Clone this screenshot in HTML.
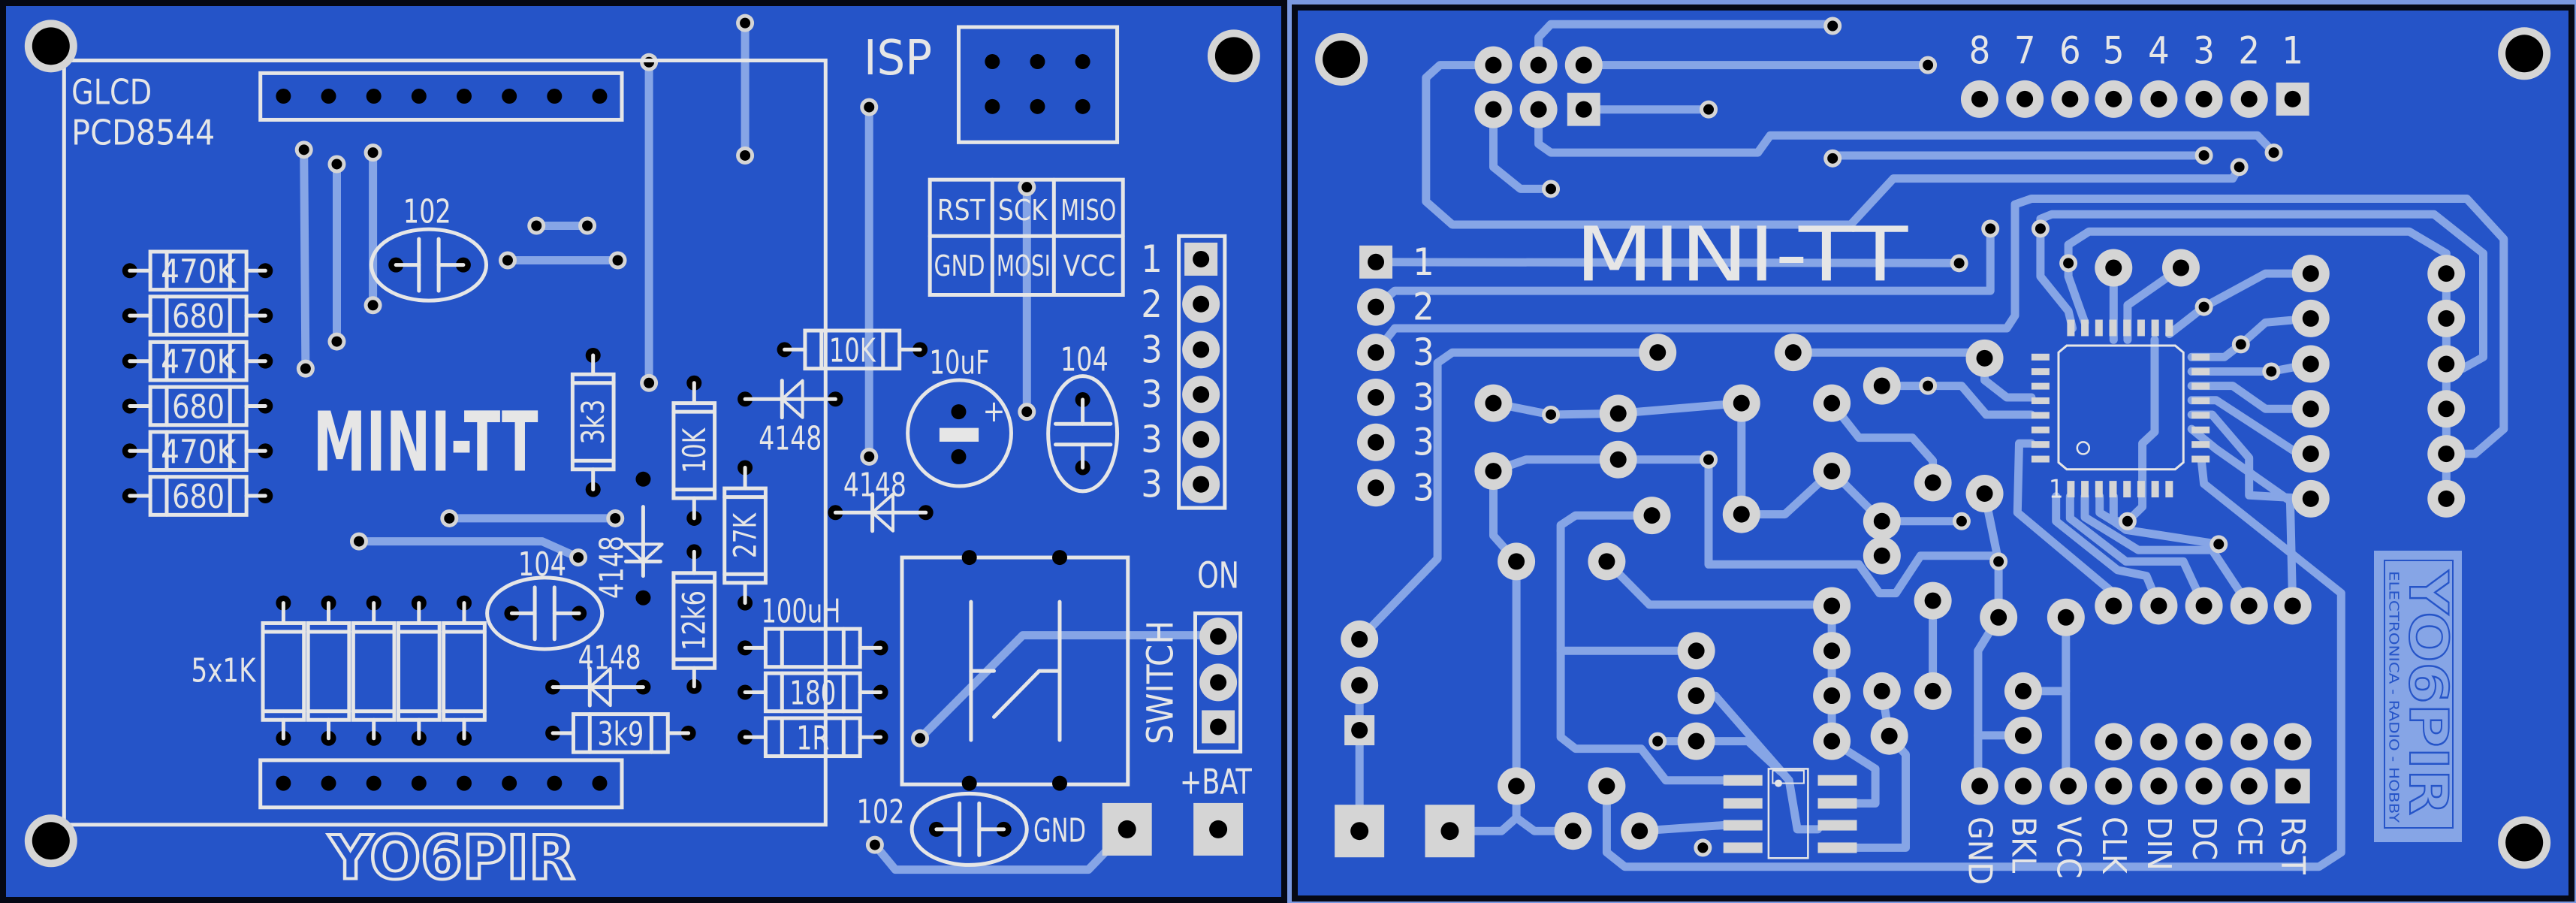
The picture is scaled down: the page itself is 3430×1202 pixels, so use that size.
<!DOCTYPE html>
<html><head><meta charset="utf-8"><style>
html,body{margin:0;padding:0;background:#7a98e0;width:3430px;height:1202px;overflow:hidden}
svg{display:block}
text{font-family:"Liberation Sans Narrow","DejaVu Sans Condensed","Liberation Sans",sans-serif}
</style></head><body>
<svg id="s" xmlns="http://www.w3.org/2000/svg" width="3430" height="1202" viewBox="0 0 3430 1202"></svg>
<script>
const kx=1.0938,ky=0.7666;let o='';
const W='#e6e6e6',TR='#86a5e6',PD='#d5d5d5',BK='#000',BL='#2554c8';
const X=(b,x)=>(b?1715:0)+x*kx, Y=y=>y*ky;
function pl(b,pts,col,w,fill){o+=`<polyline points="${pts.map(p=>X(b,p[0]).toFixed(1)+','+Y(p[1]).toFixed(1)).join(' ')}" fill="${fill||'none'}" stroke="${col}" stroke-width="${w}" stroke-linejoin="round" stroke-linecap="round"/>`}
function tr(b,...p){pl(b,p,TR,11)}
function ci(b,x,y,r,f,st,sw){o+=`<circle cx="${X(b,x)}" cy="${Y(y)}" r="${r}" fill="${f}" ${st?`stroke="${st}" stroke-width="${sw}"`:''}/>`}
function dot(x,y){ci(0,x,y,10,BK)}
function via(b,x,y){ci(b,x,y,12,PD);ci(b,x,y,7,BK)}
function pad(b,x,y){ci(b,x,y,25,PD);ci(b,x,y,11,BK)}
function spad(b,x,y,s){s=s||46;o+=`<rect x="${X(b,x)-s/2}" y="${Y(y)-s/2}" width="${s}" height="${s}" fill="${PD}"/>`;ci(b,x,y,11,BK)}
function bpad(b,x,y){o+=`<rect x="${X(b,x)-33}" y="${Y(y)-35}" width="66" height="70" fill="${PD}"/>`;ci(b,x,y,12,BK)}
function mh(b,x,y){ci(b,x,y,35,PD);ci(b,x,y,25,BK)}
function rc(b,x1,y1,x2,y2,w,col,f){o+=`<rect x="${X(b,x1)}" y="${Y(y1)}" width="${(x2-x1)*kx}" height="${(y2-y1)*ky}" fill="${f||'none'}" stroke="${col||W}" stroke-width="${w||5}"/>`}
function el(b,x,y,rx,ry){o+=`<ellipse cx="${X(b,x)}" cy="${Y(y)}" rx="${rx*kx}" ry="${ry*ky}" fill="none" stroke="${W}" stroke-width="5"/>`}
function tx(b,x,y,s,fs,o2){o2=o2||{};const xx=X(b,x),yy=Y(y);
 o+=`<text x="${xx}" y="${yy}" font-size="${fs}" fill="${o2.fill||W}" ${o2.st?`stroke="${o2.st}" stroke-width="${o2.sw||2}"`:''} font-weight="${o2.wt||'normal'}" text-anchor="${o2.a||'middle'}" dominant-baseline="central" ${o2.len?`textLength="${o2.len}" lengthAdjust="spacingAndGlyphs"`:''} ${o2.rot?`transform="rotate(${o2.rot} ${xx} ${yy})"`:''}>${s}</text>`}
function sl(b,...p){pl(b,p,W,5)}
// boards
o+=`<rect x="4" y="4" width="1706" height="1194" fill="${BL}" stroke="#050814" stroke-width="8"/>`;
o+=`<rect x="1724" y="10" width="1700" height="1186" fill="${BL}" stroke="#050814" stroke-width="8"/>`;

/* ================= LEFT BOARD ================= */
// back traces
tr(0,[907,40],[907,270]);tr(0,[790,108],[790,665]);tr(0,[1058,186],[1058,793]);tr(0,[1250,325],[1250,715]);
tr(0,[370,260],[372,640]);tr(0,[410,285],[410,593]);tr(0,[454,265],[454,530]);tr(0,[653,392],[715,392]);
tr(0,[618,452],[752,452]);tr(0,[547,900],[749,900]);tr(0,[437,940],[660,940],[704,968]);
tr(0,[1120,1282],[1245,1103],[1480,1103]);tr(0,[1065,1467],[1090,1510],[1325,1510],[1372,1440]);
[[907,40],[907,270],[790,108],[790,665],[1058,186],[1058,793],[1250,325],[1250,715],[370,260],[372,640],[410,285],[410,593],[454,265],[454,530],[653,392],[715,392],[618,452],[752,452],[547,900],[749,900],[437,940],[704,968],[1120,1282],[1065,1467]].forEach(p=>via(0,p[0],p[1]));
// LCD outline
rc(0,78,105,1005,1432);
rc(0,317,127,757,208);rc(0,317,1320,757,1402);
[345,400,455,510,565,620,675,730].forEach(x=>{dot(x,167);dot(x,1360)});
tx(0,87,160,'GLCD',46,{a:'start',len:107});tx(0,87,230,'PCD8544',46,{a:'start',len:191});
tx(0,1093,102,'ISP',64,{len:91});
rc(0,1167,47,1360,247);[1208,1263,1318].forEach(x=>{dot(x,107);dot(x,185)});
rc(0,1132,312,1367,512);sl(0,[1132,410],[1367,410]);sl(0,[1208,312],[1208,512]);sl(0,[1283,312],[1283,512]);
tx(0,1170,365,'RST',38,{len:64});tx(0,1245,365,'SCK',38,{len:66});tx(0,1325,365,'MISO',38,{len:74});
tx(0,1168,462,'GND',38,{len:68});tx(0,1246,462,'MOSI',38,{len:72});tx(0,1326,462,'VCC',38,{len:70});
rc(0,1435,410,1491,882);spad(0,1462,450,44);[528,607,685,763,841].forEach(y=>pad(0,1462,y));
['1','2','3','3','3','3'].forEach((s,i)=>tx(0,1402,[450,528,607,685,763,841][i],s,50));
tx(0,518,768,'MINI-TT',110,{wt:'bold',len:300});
// left resistor stack
function hres(b,x1,x2,y,b1,b2,lab,len){dot(x1,y);dot(x2,y);sl(b,[x1,y],[b1,y]);sl(b,[b2,y],[x2,y]);rc(b,b1,y-33,b2,y+33);sl(b,[b1+20,y-33],[b1+20,y+33]);sl(b,[b2-20,y-33],[b2-20,y+33]);if(lab)tx(b,(b1+b2)/2,y+2,lab,44,{len:len})}
function vres(b,x,y1,y2,b1,b2,lab,len){dot(x,y1);dot(x,y2);sl(b,[x,y1],[x,b1]);sl(b,[x,b2],[x,y2]);rc(b,x-25,b1,x+25,b2);sl(b,[x-25,b1+15],[x+25,b1+15]);sl(b,[x-25,b2-15],[x+25,b2-15]);if(lab)tx(b,x,(b1+b2)/2,lab,42,{rot:-90,len:len})}
[['470K',470],['680',548],['470K',627],['680',705],['470K',783],['680',861]].forEach(a=>hres(0,158,323,a[1],183,300,a[0],a[0].length>3?100:70));
function cap(x,y,rx,ry,lab,lx,ly){el(0,x,y,rx,ry);dot(x-40,y);dot(x+42,y);sl(0,[x-40,y],[x-12,y]);sl(0,[x+12,y],[x+42,y]);sl(0,[x-12,y-45],[x-12,y+45]);sl(0,[x+12,y-45],[x+12,y+45]);tx(0,lx,ly,lab,44,{len:64})}
cap(522,460,70,62,'102',520,368);cap(663,1065,70,62,'104',660,980);cap(1180,1440,70,62,'102',1072,1410);
vres(0,722,617,850,650,815,'3k3',60);vres(0,845,665,900,700,865,'10K',60);vres(0,845,958,1192,995,1160,'12k6',80);vres(0,907,812,1047,848,1012,'27K',60);
hres(0,955,1120,607,980,1095,'10K',62);
function hd(x1,x2,y,lab,lx,ly){dot(x1,y);dot(x2,y);sl(0,[x1,y],[x2,y]);const c=(x1+x2)/2;pl(0,[[c-10,y],[c+15,y-32],[c+15,y+32],[c-10,y]],W,4);sl(0,[c-10,y-32],[c-10,y+32]);tx(0,lx,ly,lab,44,{len:84})}
hd(907,1017,693,'4148',962,762);hd(1017,1127,890,'4148',1065,843);hd(673,783,1193,'4148',742,1143);
// vertical diode
dot(783,832);dot(783,1038);sl(0,[783,880],[783,1000]);pl(0,[[783,975],[760,945],[806,945],[783,975]],W,4);sl(0,[762,975],[804,975]);tx(0,745,985,'4148',44,{rot:-90,len:84});
// 10uF
el(0,1168,752,63,92);dot(1167,715);dot(1167,793);rc(0,1145,745,1190,765,3,W,W);tx(0,1210,715,'+',40);tx(0,1168,630,'10uF',44,{len:80});
// 104 right
el(0,1318,753,42,100);dot(1318,694);dot(1318,812);sl(0,[1318,694],[1318,736]);sl(0,[1318,772],[1318,812]);sl(0,[1285,736],[1352,736]);sl(0,[1285,772],[1352,772]);tx(0,1320,625,'104',44,{len:64});
// 5x1K
[345,400,455,510,565].forEach(x=>vres(0,x,1047,1282,1082,1250));tx(0,272,1165,'5x1K',44,{len:86});
hres(0,907,1072,1125,932,1047,'',0);hres(0,907,1072,1202,932,1047,'180',62);hres(0,907,1072,1280,932,1047,'1R',44);
tx(0,975,1062,'100uH',44,{len:106});
hres(0,673,838,1273,698,813,'3k9',62);
// switch
rc(0,1098,968,1373,1362);[[1180,968],[1290,968],[1180,1360],[1290,1360]].forEach(p=>dot(p[0],p[1]));
sl(0,[1182,1045],[1182,1285]);sl(0,[1290,1045],[1290,1285]);sl(0,[1182,1165],[1210,1165]);sl(0,[1210,1245],[1265,1165],[1290,1165]);
rc(0,1455,1065,1510,1305);pad(0,1483,1105);pad(0,1483,1185);spad(0,1483,1262,44);
tx(0,1483,1000,'ON',48,{len:56});tx(0,1413,1185,'SWITCH',48,{rot:-90,len:165});
tx(0,1290,1443,'GND',44,{len:70});tx(0,1480,1357,'+BAT',46,{len:96});
bpad(0,1372,1440);bpad(0,1483,1440);
tx(0,550,1490,'YO6PIR',80,{wt:'bold',fill:'none',st:W,sw:4,len:328});
mh(0,62,80);mh(0,1502,97);mh(0,62,1460);

/* ================= RIGHT BOARD ================= */
tr(1,[305,113],[305,65],[320,42],[663,42]);tr(1,[360,113],[779,113]);tr(1,[360,190],[512,190]);
tr(1,[250,113],[185,113],[168,135],[168,350],[200,390],[685,390],[737,310],[1150,310],[1158,290]);
tr(1,[250,190],[250,290],[283,328],[320,328]);
tr(1,[305,190],[305,250],[320,265],[572,265],[587,235],[1180,235],[1200,265]);
tr(1,[663,270],[1115,270]);tr(1,[107,455],[817,457]);
tr(1,[107,533],[130,505],[855,505],[855,397]);
tr(1,[107,612],[130,570],[875,570],[885,548],[885,355],[905,345],[1435,345],[1480,415],[1480,745],[1445,788],[1410,788]);
tr(1,[916,397],[916,380],[930,372],[1395,372],[1455,440],[1455,620],[1430,640]);
tr(1,[950,457],[950,425],[975,402],[1365,402],[1410,440],[1410,475]);
tr(1,[1410,475],[1410,866]);
tr(1,[450,612],[200,612],[182,630],[182,970],[87,1110]);
tr(1,[615,612],[848,612],[848,622]);
tr(1,[250,700],[320,720],[402,718],[552,700]);tr(1,[250,818],[290,798],[512,798]);
tr(1,[552,700],[552,893],[605,893],[662,818],[723,905]);
tr(1,[662,700],[695,760],[760,760],[785,800],[785,838]);
tr(1,[723,670],[820,670],[850,720],[905,720]);tr(1,[848,622],[848,660],[875,690],[905,690]);
tr(1,[250,818],[250,930],[278,975],[278,1365],[278,1420],[260,1443],[197,1443]);tr(1,[278,1420],[300,1443],[347,1443]);
tr(1,[87,1190],[87,1443]);
tr(1,[512,798],[512,980],[695,980],[720,1030],[740,1030],[770,965],[865,965]);
tr(1,[848,857],[865,975],[865,1072],[840,1130],[840,1365]);tr(1,[723,905],[820,905]);
tr(1,[388,975],[440,1050],[662,1050]);
tr(1,[443,895],[350,895],[332,912],[332,1280],[350,1300],[430,1300],[460,1355],[530,1355]);tr(1,[332,1130],[497,1130]);
tr(1,[662,1050],[662,1287]);tr(1,[785,1043],[785,1200]);
tr(1,[497,1208],[520,1208],[610,1355],[620,1440],[645,1440]);
tr(1,[450,1287],[560,1287],[600,1340]);
tr(1,[723,1200],[732,1278],[752,1310],[752,1472],[693,1472]);
tr(1,[662,1287],[715,1335],[715,1395],[693,1395]);
tr(1,[388,1365],[388,1480],[410,1505],[1255,1505],[1282,1480],[1282,1030],[1115,840],[1112,800]);
tr(1,[428,1443],[530,1433]);
tr(1,[947,1072],[947,1365]);tr(1,[895,1200],[947,1200]);tr(1,[840,1277],[895,1277]);
// QFP traces
tr(1,[1005,465],[1005,590]);tr(1,[1087,465],[1022,530],[1022,590]);tr(1,[1073,580],[1115,533],[1190,475],[1245,475]);
tr(1,[1100,620],[1140,620],[1160,598],[1190,560],[1245,553]);tr(1,[1100,645],[1197,645],[1245,632]);
tr(1,[1100,670],[1150,670],[1190,710],[1245,710]);tr(1,[1100,695],[1130,695],[1230,788]);tr(1,[1100,720],[1125,720],[1170,795],[1170,860],[1245,866]);
tr(1,[1100,745],[1130,780],[1220,870],[1223,1052]);
tr(1,[1022,905],[1040,880],[1040,770],[1055,750],[1055,590]);
tr(1,[988,862],[988,890],[1005,905],[1022,905]);
tr(1,[950,457],[950,480],[970,560]);
tr(1,[916,397],[916,480],[950,540],[955,570]);
tr(1,[905,770],[890,770],[888,890],[1005,1030],[1005,1052]);
tr(1,[935,862],[935,905],[1010,990],[1045,1000],[1060,1052]);
tr(1,[952,862],[952,900],[1020,975],[1090,975],[1115,1052]);
tr(1,[970,862],[970,898],[1035,955],[1125,955],[1170,1052]);
tr(1,[1005,862],[1005,905],[1020,920],[1133,945]);
tr(1,[840,1365],[840,1130]);
// vias
[[663,45],[779,113],[512,190],[320,328],[663,275],[1115,270],[1158,290],[1200,265],[855,397],[916,397],[817,457],[950,457],[320,720],[512,798],[779,670],[1115,533],[1160,598],[1197,645],[820,905],[1022,905],[1133,945],[865,975],[450,1287],[505,1472]].forEach(p=>via(1,p[0],p[1]));
// pads
[[250,113],[305,113],[360,113],[250,190],[305,190]].forEach(p=>pad(1,p[0],p[1]));spad(1,360,190,44);
[842,897,952,1005,1060,1115,1170].forEach(x=>pad(1,x,172));spad(1,1223,172,44);
['8','7','6','5','4','3','2','1'].forEach((s,i)=>tx(1,[842,897,952,1005,1060,1115,1170,1223][i],88,s,50));
spad(1,107,455,44);[533,612,690,768,847].forEach(y=>pad(1,107,y));
['1','2','3','3','3','3'].forEach((s,i)=>tx(1,165,[455,533,612,690,768,847][i],s,50));
tx(1,552,442,'MINI-TT',100,{len:443});
[[1245,475],[1245,553],[1245,632],[1245,710],[1245,788],[1245,866],[1410,475],[1410,553],[1410,632],[1410,710],[1410,788],[1410,866],[1005,465],[1087,465],[1005,1052],[1060,1052],[1115,1052],[1170,1052],[1223,1052],[1005,1288],[1060,1288],[1115,1288],[1170,1288],[1223,1288],[842,1365],[895,1365],[950,1365],[1005,1365],[1060,1365],[1115,1365],[1170,1365],
[450,612],[615,612],[848,622],[723,670],[250,700],[402,718],[552,700],[662,700],[250,818],[402,798],[662,818],[785,838],[848,857],[552,893],[723,905],[723,965],[443,895],[278,975],[388,975],[662,1052],[785,1043],[865,1072],[947,1072],[497,1130],[662,1130],[497,1208],[662,1208],[723,1200],[785,1200],[497,1287],[662,1287],[732,1278],[895,1200],[895,1277],[87,1110],[87,1190],[278,1365],[388,1365],[347,1443],[428,1443]].forEach(p=>pad(1,p[0],p[1]));
spad(1,1223,1365,46);spad(1,87,1268,40);bpad(1,87,1443);bpad(1,197,1443);
['GND','BKL','VCC','CLK','DIN','DC','CE','RST'].forEach((s,i)=>tx(1,[842,895,950,1005,1060,1115,1170,1223][i],1418,s,44,{a:'start',rot:90}));
// QFP
o+=`<path d="M${X(1,948)} ${Y(600)} L${X(1,1080)} ${Y(600)} L${X(1,1090)} ${Y(612)} L${X(1,1090)} ${Y(803)} L${X(1,1080)} ${Y(815)} L${X(1,948)} ${Y(815)} L${X(1,938)} ${Y(803)} L${X(1,938)} ${Y(612)} Z" fill="none" stroke="${W}" stroke-width="3"/>`;
for(let i=0;i<8;i++){const x=X(1,953+17.1*i);o+=`<rect x="${x-5}" y="${Y(555)}" width="10" height="22" fill="${PD}"/><rect x="${x-5}" y="${Y(835)}" width="10" height="22" fill="${PD}"/>`;
 const y=Y(620+25.3*i);o+=`<rect x="${X(1,905)}" y="${y-4.5}" width="24" height="9" fill="${PD}"/><rect x="${X(1,1100)}" y="${y-4.5}" width="24" height="9" fill="${PD}"/>`}
ci(1,968,778,8,'none',W,2.5);tx(1,935,850,'1',34);
// SOIC8
[1355,1395,1433,1472].forEach(y=>{o+=`<rect x="${X(1,530)}" y="${Y(y)-7}" width="52" height="14" fill="${PD}"/><rect x="${X(1,645)}" y="${Y(y)-7}" width="52" height="14" fill="${PD}"/>`});
rc(1,585,1335,633,1490,2.5);rc(1,590,1338,628,1360,2);ci(1,597,1360,5,W);
// logo
o+=`<rect x="3161" y="733" width="117" height="388" fill="${TR}"/><rect x="3175" y="746" width="91" height="356" fill="none" stroke="${BL}" stroke-width="2"/>`;
o+=`<text x="3233" y="760" font-size="70" font-weight="bold" fill="${TR}" stroke="${BL}" stroke-width="2" text-anchor="start" dominant-baseline="central" textLength="325" lengthAdjust="spacingAndGlyphs" transform="rotate(90 3233 760)">YO6PIR</text>`;
o+=`<text x="3187" y="760" font-size="18" fill="${BL}" text-anchor="start" dominant-baseline="central" textLength="335" lengthAdjust="spacingAndGlyphs" transform="rotate(90 3187 760)">ELECTRONICA - RADIO - HOBBY</text>`;
mh(1,65,103);mh(1,1505,93);mh(1,1505,1463);
document.getElementById('s').innerHTML=o;
</script>
</body></html>
